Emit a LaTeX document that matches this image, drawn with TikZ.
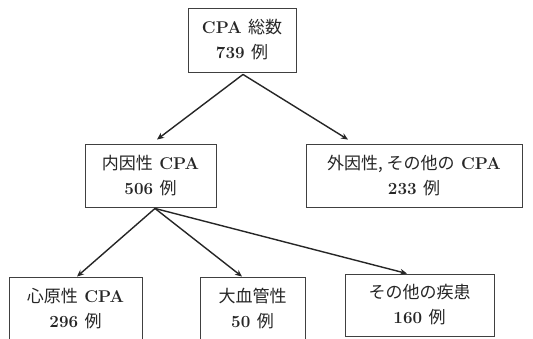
\documentclass[tikz,border=0pt]{standalone}
\usepackage{fontspec}
\newfontfamily\jp{Noto Sans CJK JP}
\usetikzlibrary{arrows.meta}
\tikzset{
  box/.style={draw=black!75, line width=0.9pt, rectangle, inner sep=0pt, align=center,
    font=\fontsize{17}{25}\selectfont\bfseries, text=black!85},
  arr/.style={line width=1.4pt, draw=black!85, -{Stealth[length=7pt,width=6pt]}}
}
\begin{document}
\begin{tikzpicture}[x=1pt,y=1pt]
\path[use as bounding box, clip] (0,0) rectangle (533,-338);
\fill[white] (0,0) rectangle (533,-338);
\node[box, minimum width=108pt, minimum height=64pt] (top) at (242,-40) {CPA {\jp\mdseries 総数}\\739 {\jp\mdseries 例}};
\node[box, minimum width=131pt, minimum height=63pt] (naiin) at (150.5,-175.5) {{\jp\mdseries 内因性} CPA\\506 {\jp\mdseries 例}};
\node[box, minimum width=216pt, minimum height=63pt] (gaiin) at (414,-175.5) {{\jp\mdseries 外因性, その他の} CPA\\233 {\jp\mdseries 例}};
\node[box, minimum width=133pt, minimum height=63pt] (shin) at (75.5,-308.5) {{\jp\mdseries 心原性} CPA\\296 {\jp\mdseries 例}};
\node[box, minimum width=105pt, minimum height=63pt] (dai) at (252.5,-308.5) {{\jp\mdseries 大血管性}\\50 {\jp\mdseries 例}};
\node[box, minimum width=149pt, minimum height=62pt] (sonota) at (419.5,-305) {{\jp\mdseries その他の疾患}\\160 {\jp\mdseries 例}};
\draw[arr] ([xshift=1pt,yshift=-2pt]top.south) -- ([xshift=6.5pt,yshift=4pt]naiin.north);
\draw[arr] ([xshift=1pt,yshift=-2pt]top.south) -- ([xshift=-66pt,yshift=4pt]gaiin.north);
\draw[arr] ([xshift=4.5pt,yshift=-1pt]naiin.south) -- ([xshift=1.5pt]shin.north);
\draw[arr] ([xshift=4.5pt,yshift=-1pt]naiin.south) -- ([xshift=-10.5pt]dai.north);
\draw[arr] ([xshift=4.5pt,yshift=-1pt]naiin.south) -- ([xshift=-12.5pt]sonota.north);
\end{tikzpicture}
\end{document}
